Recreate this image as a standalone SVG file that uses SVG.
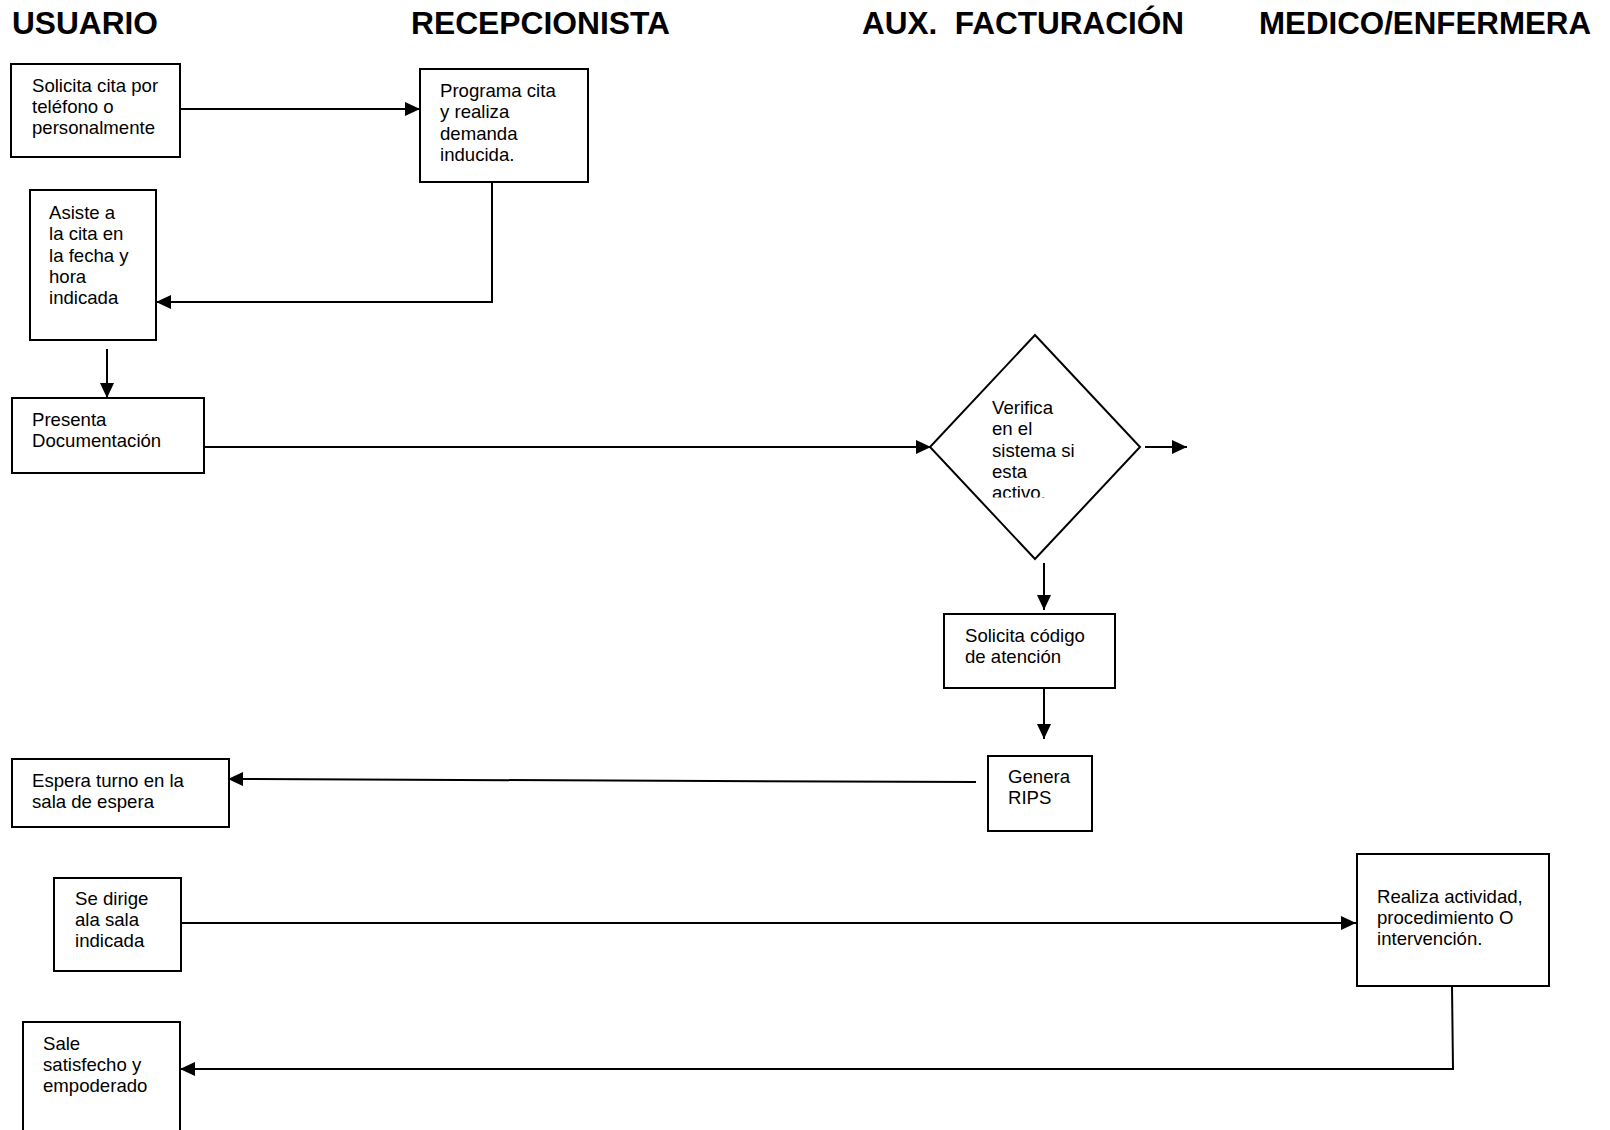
<svg xmlns="http://www.w3.org/2000/svg" width="1610" height="1130" viewBox="0 0 1610 1130">
<style>
.hdr{font-family:"Liberation Sans",Arial,sans-serif;font-weight:bold;font-size:31px;fill:#000;white-space:pre}
.box{fill:#fff;stroke:#000;stroke-width:2}
.t{font-family:"Liberation Sans",Arial,sans-serif;font-size:18.6px;fill:#000}
.ln{fill:none;stroke:#000;stroke-width:2}
</style>
<defs>
<marker id="ah" markerUnits="userSpaceOnUse" markerWidth="15" markerHeight="14" refX="15" refY="7" orient="auto">
<path d="M0,0 L15,7 L0,14 Z" fill="#000"/>
</marker>
<clipPath id="dclip"><rect x="960" y="390" width="120" height="107.5"/></clipPath>
</defs>
<rect width="1610" height="1130" fill="#fff"/>
<g id="headers">
<text class="hdr" x="12" y="34" textLength="146" lengthAdjust="spacingAndGlyphs">USUARIO</text>
<text class="hdr" x="411" y="34" textLength="259" lengthAdjust="spacingAndGlyphs">RECEPCIONISTA</text>
<text class="hdr" x="862" y="34" textLength="322" lengthAdjust="spacingAndGlyphs">AUX.  FACTURACIÓN</text>
<text class="hdr" x="1259" y="34" textLength="332" lengthAdjust="spacingAndGlyphs">MEDICO/ENFERMERA</text>
</g>
<g id="connectors">
<line class="ln" x1="180" y1="109" x2="420" y2="109" marker-end="url(#ah)"/>
<polyline class="ln" points="492,182 492,302 156,302" marker-end="url(#ah)"/>
<line class="ln" x1="107" y1="349" x2="107" y2="398" marker-end="url(#ah)"/>
<line class="ln" x1="204" y1="447" x2="931" y2="447" marker-end="url(#ah)"/>
<line class="ln" x1="1145" y1="447" x2="1187" y2="447" marker-end="url(#ah)"/>
<line class="ln" x1="1044" y1="563" x2="1044" y2="610" marker-end="url(#ah)"/>
<line class="ln" x1="1044" y1="688" x2="1044" y2="739" marker-end="url(#ah)"/>
<line class="ln" x1="976" y1="782" x2="228" y2="779" marker-end="url(#ah)"/>
<line class="ln" x1="181" y1="923" x2="1356" y2="923" marker-end="url(#ah)"/>
<polyline class="ln" points="1452,986 1453,1069 180,1069" marker-end="url(#ah)"/>
</g>
<g id="n1">
<rect class="box" x="11" y="64" width="169" height="93"/>
<text class="t" x="32" y="92">Solicita cita por</text>
<text class="t" x="32" y="113">teléfono o</text>
<text class="t" x="32" y="134">personalmente</text>
</g>
<g id="n2">
<rect class="box" x="420" y="69" width="168" height="113"/>
<text class="t" x="440" y="97">Programa cita</text>
<text class="t" x="440" y="118">y realiza</text>
<text class="t" x="440" y="140">demanda</text>
<text class="t" x="440" y="161">inducida.</text>
</g>
<g id="n3">
<rect class="box" x="30" y="190" width="126" height="150"/>
<text class="t" x="49" y="219">Asiste a</text>
<text class="t" x="49" y="240">la cita en</text>
<text class="t" x="49" y="262">la fecha y</text>
<text class="t" x="49" y="283">hora</text>
<text class="t" x="49" y="304">indicada</text>
</g>
<g id="n4">
<rect class="box" x="12" y="398" width="192" height="75"/>
<text class="t" x="32" y="426">Presenta</text>
<text class="t" x="32" y="447">Documentación</text>
</g>
<g id="n5">
<polygon class="box" points="1035,335 1140,447 1035,559 930,447"/>
<g clip-path="url(#dclip)">
<text class="t" x="992" y="414">Verifica</text>
<text class="t" x="992" y="435">en el</text>
<text class="t" x="992" y="457">sistema si</text>
<text class="t" x="992" y="478">esta</text>
<text class="t" x="992" y="499">activo.</text>
</g>
</g>
<g id="n6">
<rect class="box" x="944" y="614" width="171" height="74"/>
<text class="t" x="965" y="642">Solicita código</text>
<text class="t" x="965" y="663">de atención</text>
</g>
<g id="n7">
<rect class="box" x="988" y="756" width="104" height="75"/>
<text class="t" x="1008" y="783">Genera</text>
<text class="t" x="1008" y="804">RIPS</text>
</g>
<g id="n8">
<rect class="box" x="12" y="759" width="217" height="68"/>
<text class="t" x="32" y="787">Espera turno en la</text>
<text class="t" x="32" y="808">sala de espera</text>
</g>
<g id="n9">
<rect class="box" x="54" y="878" width="127" height="93"/>
<text class="t" x="75" y="905">Se dirige</text>
<text class="t" x="75" y="926">ala sala</text>
<text class="t" x="75" y="947">indicada</text>
</g>
<g id="n10">
<rect class="box" x="1357" y="854" width="192" height="132"/>
<text class="t" x="1377" y="903">Realiza actividad,</text>
<text class="t" x="1377" y="924">procedimiento O</text>
<text class="t" x="1377" y="945">intervención.</text>
</g>
<g id="n11">
<rect class="box" x="23" y="1022" width="157" height="130"/>
<text class="t" x="43" y="1050">Sale</text>
<text class="t" x="43" y="1071">satisfecho y</text>
<text class="t" x="43" y="1092">empoderado</text>
</g>
</svg>
